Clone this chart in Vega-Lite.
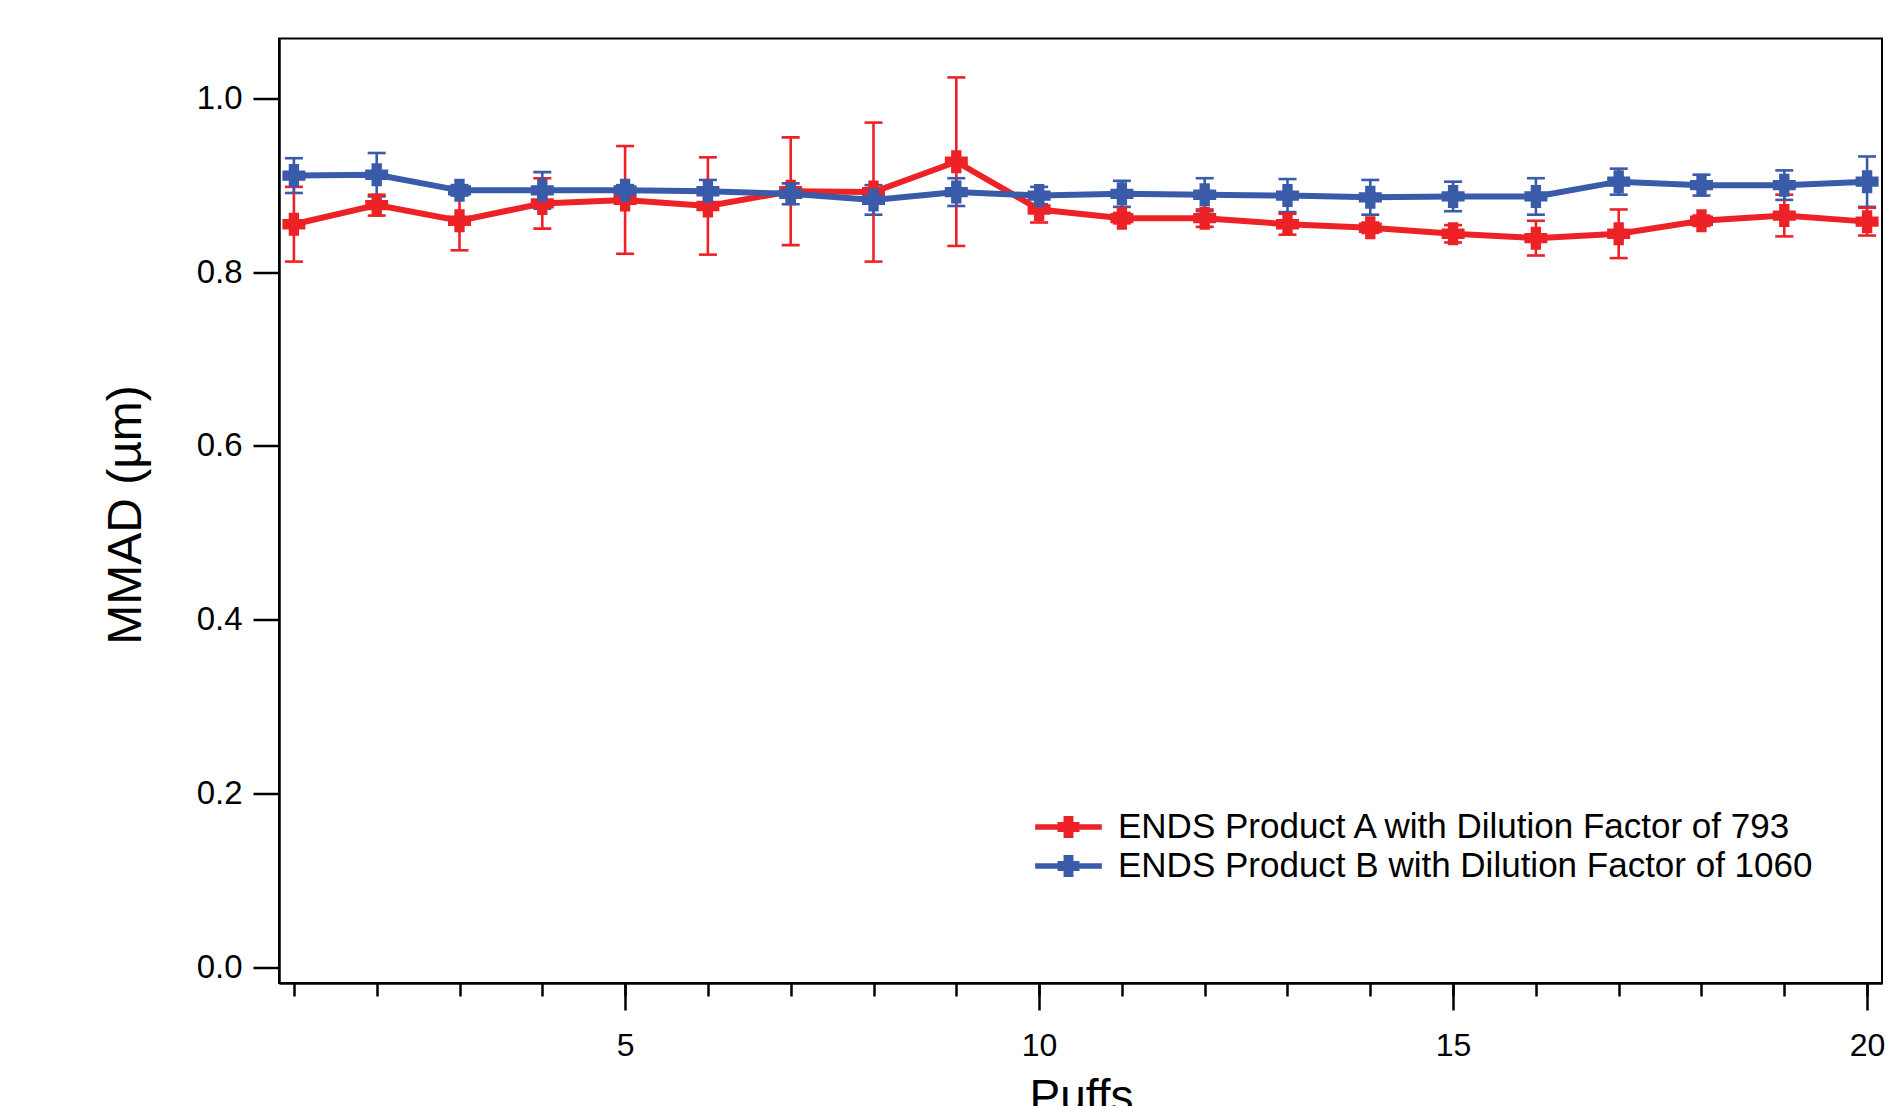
{
  "$schema": "https://vega.github.io/schema/vega-lite/v6.json",
  "width": 1603,
  "height": 944.5,
  "autosize": {"type": "none"},
  "padding": {"left": 279, "top": 38.5, "right": 9, "bottom": 123},
  "background": "white",
  "data": {
    "values": [
      {"series": "ENDS Product A with Dilution Factor of 793", "puff": 1, "mmad": 0.855, "err": 0.043},
      {"series": "ENDS Product A with Dilution Factor of 793", "puff": 2, "mmad": 0.877, "err": 0.012},
      {"series": "ENDS Product A with Dilution Factor of 793", "puff": 3, "mmad": 0.859, "err": 0.034},
      {"series": "ENDS Product A with Dilution Factor of 793", "puff": 4, "mmad": 0.879, "err": 0.029},
      {"series": "ENDS Product A with Dilution Factor of 793", "puff": 5, "mmad": 0.883, "err": 0.062},
      {"series": "ENDS Product A with Dilution Factor of 793", "puff": 6, "mmad": 0.876, "err": 0.056},
      {"series": "ENDS Product A with Dilution Factor of 793", "puff": 7, "mmad": 0.893, "err": 0.062},
      {"series": "ENDS Product A with Dilution Factor of 793", "puff": 8, "mmad": 0.892, "err": 0.080},
      {"series": "ENDS Product A with Dilution Factor of 793", "puff": 9, "mmad": 0.927, "err": 0.097},
      {"series": "ENDS Product A with Dilution Factor of 793", "puff": 10, "mmad": 0.872, "err": 0.015},
      {"series": "ENDS Product A with Dilution Factor of 793", "puff": 11, "mmad": 0.862, "err": 0.006},
      {"series": "ENDS Product A with Dilution Factor of 793", "puff": 12, "mmad": 0.862, "err": 0.010},
      {"series": "ENDS Product A with Dilution Factor of 793", "puff": 13, "mmad": 0.855, "err": 0.012},
      {"series": "ENDS Product A with Dilution Factor of 793", "puff": 14, "mmad": 0.851, "err": 0.006},
      {"series": "ENDS Product A with Dilution Factor of 793", "puff": 15, "mmad": 0.844, "err": 0.010},
      {"series": "ENDS Product A with Dilution Factor of 793", "puff": 16, "mmad": 0.839, "err": 0.020},
      {"series": "ENDS Product A with Dilution Factor of 793", "puff": 17, "mmad": 0.844, "err": 0.028},
      {"series": "ENDS Product A with Dilution Factor of 793", "puff": 18, "mmad": 0.859, "err": 0.006},
      {"series": "ENDS Product A with Dilution Factor of 793", "puff": 19, "mmad": 0.865, "err": 0.024},
      {"series": "ENDS Product A with Dilution Factor of 793", "puff": 20, "mmad": 0.858, "err": 0.016},
      {"series": "ENDS Product B with Dilution Factor of 1060", "puff": 1, "mmad": 0.911, "err": 0.020},
      {"series": "ENDS Product B with Dilution Factor of 1060", "puff": 2, "mmad": 0.912, "err": 0.025},
      {"series": "ENDS Product B with Dilution Factor of 1060", "puff": 3, "mmad": 0.894, "err": 0.006},
      {"series": "ENDS Product B with Dilution Factor of 1060", "puff": 4, "mmad": 0.894, "err": 0.021},
      {"series": "ENDS Product B with Dilution Factor of 1060", "puff": 5, "mmad": 0.894, "err": 0.006},
      {"series": "ENDS Product B with Dilution Factor of 1060", "puff": 6, "mmad": 0.893, "err": 0.013},
      {"series": "ENDS Product B with Dilution Factor of 1060", "puff": 7, "mmad": 0.890, "err": 0.012},
      {"series": "ENDS Product B with Dilution Factor of 1060", "puff": 8, "mmad": 0.883, "err": 0.017},
      {"series": "ENDS Product B with Dilution Factor of 1060", "puff": 9, "mmad": 0.892, "err": 0.016},
      {"series": "ENDS Product B with Dilution Factor of 1060", "puff": 10, "mmad": 0.888, "err": 0.010},
      {"series": "ENDS Product B with Dilution Factor of 1060", "puff": 11, "mmad": 0.890, "err": 0.015},
      {"series": "ENDS Product B with Dilution Factor of 1060", "puff": 12, "mmad": 0.889, "err": 0.019},
      {"series": "ENDS Product B with Dilution Factor of 1060", "puff": 13, "mmad": 0.888, "err": 0.019},
      {"series": "ENDS Product B with Dilution Factor of 1060", "puff": 14, "mmad": 0.886, "err": 0.020},
      {"series": "ENDS Product B with Dilution Factor of 1060", "puff": 15, "mmad": 0.887, "err": 0.017},
      {"series": "ENDS Product B with Dilution Factor of 1060", "puff": 16, "mmad": 0.887, "err": 0.021},
      {"series": "ENDS Product B with Dilution Factor of 1060", "puff": 17, "mmad": 0.904, "err": 0.015},
      {"series": "ENDS Product B with Dilution Factor of 1060", "puff": 18, "mmad": 0.900, "err": 0.012},
      {"series": "ENDS Product B with Dilution Factor of 1060", "puff": 19, "mmad": 0.900, "err": 0.017},
      {"series": "ENDS Product B with Dilution Factor of 1060", "puff": 20, "mmad": 0.904, "err": 0.029}
    ]
  },
  "resolve": {"axis": {"x": "independent"}},
  "encoding": {
    "y": {"field": "mmad", "type": "quantitative", "scale": {"domain": [-0.0184, 1.0688], "nice": false, "zero": false},
      "axis": {"values": [0, 0.2, 0.4, 0.6, 0.8, 1.0], "format": ".1f", "tickSize": 26, "tickWidth": 2.5, "domainWidth": 2.5, "labelFontSize": 33, "labelPadding": 11, "title": "MMAD (µm)", "titleFontSize": 48, "titleFontWeight": "normal", "titleX": -153, "titleY": 476, "titleAngle": -90, "titleBaseline": "middle", "titleAlign": "center", "grid": false}},
    "color": {"field": "series", "type": "nominal", "scale": {"range": ["#ED2227", "#3A5BA9"]},
      "legend": {"title": null, "orient": "none", "legendX": 772, "legendY": 771, "padding": 0, "symbolType": "M-3.03,-0.245L3.03,-0.245L3.03,0.245L-3.03,0.245Z M-0.45,-1L0.45,-1L0.45,1L-0.45,1Z M-1,-0.45L1,-0.45L1,0.45L-1,0.45Z", "symbolSize": 484, "symbolStrokeWidth": 0, "symbolOpacity": 1, "labelFontSize": 35, "labelOffset": 32, "labelLimit": 2000, "rowPadding": 3, "labelColor": "black"}}
  },
  "layer": [
    {
      "mark": {"type": "errorbar", "ticks": {"size": 18, "thickness": 2.6, "opacity": 1}, "rule": {"strokeWidth": 2.6, "opacity": 1}},
      "encoding": {
        "x": {"field": "puff", "type": "quantitative", "scale": {"domain": [0.82, 20.18], "nice": false, "zero": false}, "axis": null},
        "yError": {"field": "err"}
      }
    },
    {
      "mark": {"type": "line", "strokeWidth": 6},
      "encoding": {
        "x": {"field": "puff", "type": "quantitative", "scale": {"domain": [0.82, 20.18], "nice": false, "zero": false},
          "axis": {"orient": "bottom", "values": [5, 10, 15, 20], "tickSize": 27, "tickWidth": 2.5, "domainWidth": 2.5, "labelFontSize": 32, "labelBaseline": "alphabetic", "labelPadding": 45, "title": "Puffs", "titleFontSize": 46, "titleFontWeight": "normal", "titleBaseline": "alphabetic", "titleY": 128, "titleX": 802, "titleAnchor": "middle", "grid": false}}
      }
    },
    {
      "mark": {"type": "point", "filled": true, "opacity": 1, "size": 529, "shape": "M-0.45,-1L0.45,-1L0.45,-0.45L1,-0.45L1,0.45L0.45,0.45L0.45,1L-0.45,1L-0.45,0.45L-1,0.45L-1,-0.45L-0.45,-0.45Z"},
      "encoding": {
        "x": {"field": "puff", "type": "quantitative", "scale": {"domain": [0.82, 20.18], "nice": false, "zero": false},
          "axis": {"orient": "bottom", "values": [1, 2, 3, 4, 5, 6, 7, 8, 9, 10, 11, 12, 13, 14, 15, 16, 17, 18, 19, 20], "tickSize": 13, "tickWidth": 2.5, "labels": false, "domain": false, "title": null, "grid": false}}
      }
    }
  ],
  "config": {
    "font": "Liberation Sans",
    "view": {"stroke": "black", "strokeWidth": 2},
    "axis": {"domainColor": "black", "tickColor": "black", "labelColor": "black", "titleColor": "black", "labelFont": "Liberation Sans", "titleFont": "Liberation Sans"},
    "legend": {"labelFont": "Liberation Sans"}
  }
}
